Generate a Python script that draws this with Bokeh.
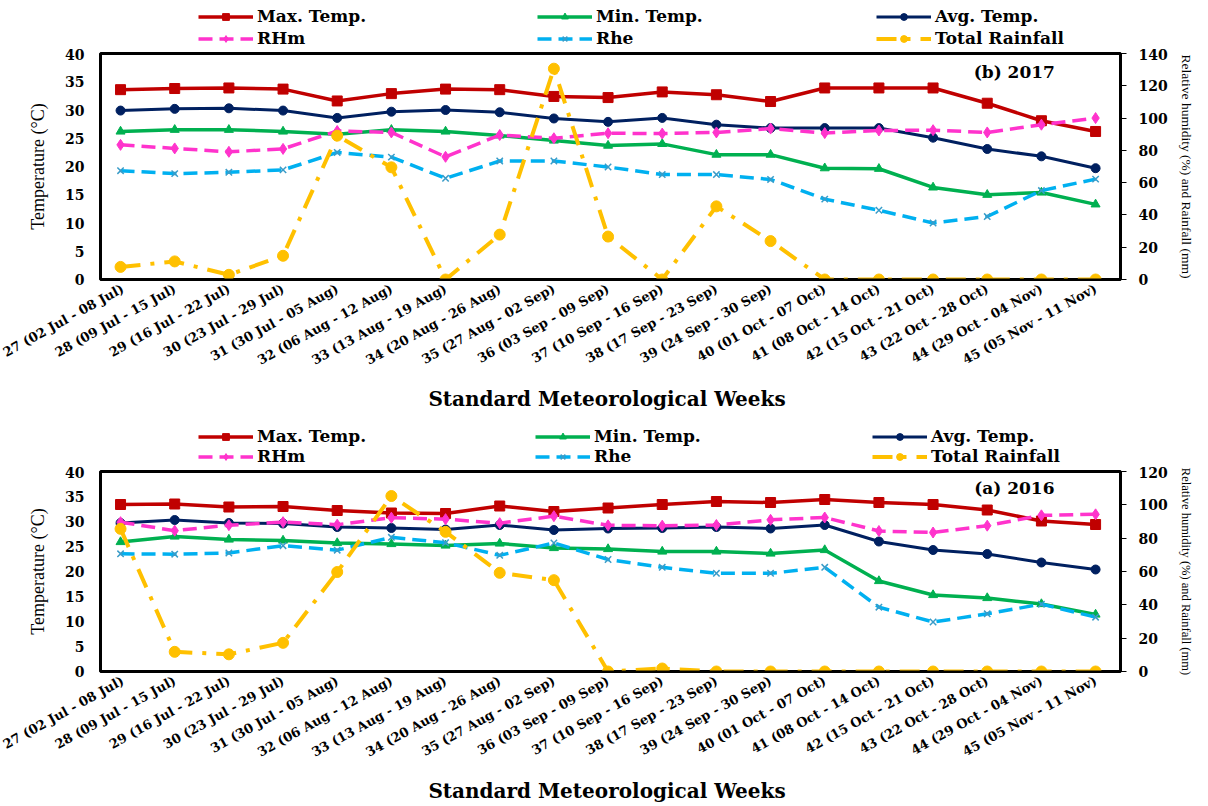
import math
from bokeh.plotting import figure
from bokeh.models import (Range1d, LinearAxis, FixedTicker, Legend, LegendItem, Label)
from bokeh.layouts import column
from bokeh.embed import file_html
from bokeh.resources import INLINE

weeks = ["27 (02 Jul - 08 Jul)", "28 (09 Jul - 15 Jul)", "29 (16 Jul - 22 Jul)",
         "30 (23 Jul - 29 Jul)", "31 (30 Jul - 05 Aug)", "32 (06 Aug - 12 Aug)",
         "33 (13 Aug - 19 Aug)", "34 (20 Aug - 26 Aug)", "35 (27 Aug - 02 Sep)",
         "36 (03 Sep - 09 Sep)", "37 (10 Sep - 16 Sep)", "38 (17 Sep - 23 Sep)",
         "39 (24 Sep - 30 Sep)", "40 (01 Oct - 07 Oct)", "41 (08 Oct - 14 Oct)",
         "42 (15 Oct - 21 Oct)", "43 (22 Oct - 28 Oct)", "44 (29 Oct - 04 Nov)",
         "45 (05 Nov - 11 Nov)"]

# 2017 (b)
max_2017 = [33.6, 33.8, 33.9, 33.7, 31.6, 32.9, 33.7, 33.6, 32.4, 32.2, 33.2, 32.7, 31.5, 33.9, 33.9, 33.9, 31.2, 28.1, 26.2]
min_2017 = [26.2, 26.5, 26.5, 26.2, 25.7, 26.5, 26.2, 25.5, 24.6, 23.7, 24.0, 22.1, 22.1, 19.7, 19.6, 16.3, 15.0, 15.4, 13.3]
avg_2017 = [29.9, 30.2, 30.3, 29.9, 28.6, 29.7, 30.0, 29.6, 28.5, 27.9, 28.6, 27.4, 26.8, 26.8, 26.8, 25.1, 23.1, 21.8, 19.7]
rhm_2017 = [83.4, 81.2, 79.1, 80.9, 92.0, 91.1, 76.0, 89.5, 87.5, 90.6, 90.4, 91.1, 93.5, 90.7, 92.3, 92.5, 91.1, 95.9, 100.0]
rhe_2017 = [67.4, 65.6, 66.4, 67.9, 78.7, 75.8, 62.7, 73.4, 73.4, 69.7, 65.0, 65.0, 62.0, 49.8, 42.9, 35.0, 39.0, 55.1, 62.2]
rain_2017 = [7.8, 11.2, 2.9, 14.7, 89.1, 69.5, 0.0, 27.8, 130.6, 26.6, 0.0, 45.3, 23.8, 0.0, 0.0, 0.0, 0.0, 0.0, 0.0]

# 2016 (a)
max_2016 = [33.4, 33.5, 32.9, 33.0, 32.2, 31.7, 31.6, 33.1, 32.0, 32.7, 33.4, 34.0, 33.8, 34.4, 33.8, 33.4, 32.3, 30.1, 29.4]
min_2016 = [25.9, 27.0, 26.4, 26.2, 25.7, 25.5, 25.2, 25.6, 24.7, 24.5, 24.0, 24.0, 23.6, 24.3, 18.1, 15.3, 14.7, 13.5, 11.4]
avg_2016 = [29.7, 30.3, 29.7, 29.6, 28.9, 28.7, 28.4, 29.3, 28.3, 28.6, 28.7, 28.9, 28.6, 29.3, 26.0, 24.3, 23.5, 21.8, 20.4]
rhm_2016 = [89.6, 84.5, 87.8, 89.6, 88.1, 92.3, 91.4, 89.0, 93.2, 87.7, 87.5, 87.9, 91.0, 92.4, 84.3, 83.4, 87.5, 93.7, 94.3]
rhe_2016 = [70.6, 70.4, 71.1, 75.5, 72.8, 80.5, 77.3, 69.7, 77.1, 67.2, 62.5, 58.9, 58.9, 62.5, 38.6, 29.7, 34.6, 40.4, 32.6]
rain_2016 = [85.6, 11.8, 10.3, 17.2, 59.7, 105.3, 83.8, 59.2, 54.8, 0.0, 1.8, 0.0, 0.0, 0.0, 0.0, 0.0, 0.0, 0.0, 0.0]

series_names = ["Max. Temp.", "Min. Temp.", "Avg. Temp.", "RHm", "Rhe", "Total Rainfall"]

SERIF = "Liberation Serif"
BOLD = "DejaVu Serif"

RED, GREEN, NAVY = "#C00000", "#00B050", "#002060"
PINK, CYAN, GOLD = "#FF33CC", "#00B0F0", "#FFC000"

# (line style, marker style) per series
STYLES = [
    (dict(line_color=RED, line_width=3.5), dict(marker="square", size=10, fill_color=RED, line_color=RED)),
    (dict(line_color=GREEN, line_width=3.5), dict(marker="triangle", size=9, fill_color=GREEN, line_color=GREEN)),
    (dict(line_color=NAVY, line_width=3), dict(marker="circle", size=9, fill_color=NAVY, line_color=NAVY)),
    (dict(line_color=PINK, line_width=3.5, line_dash="14 7"), dict(marker="diamond", size=11, fill_color=PINK, line_color=PINK)),
    (dict(line_color=CYAN, line_width=3.5, line_dash="14 7"), dict(marker="x", size=9, line_color="#3A9CC8", line_width=1.5)),
    (dict(line_color=GOLD, line_width=4, line_dash="20 10 4 10"), dict(marker="circle", size=11, fill_color=GOLD, line_color=GOLD)),
]


def make_legend_fig(height, spacing, series):
    # a strip above each chart that carries only the legend; its own ranges keep the
    # series themselves out of view so only the legend keys show
    f = figure(width=1208, height=height, output_backend="svg", toolbar_location=None,
               x_axis_location=None, y_axis_location=None, min_border=0,
               x_range=Range1d(-200, -199), y_range=Range1d(-200, -199))
    f.xgrid.visible = False
    f.ygrid.visible = False
    f.outline_line_color = None
    x = list(range(len(weeks)))
    items = []
    for name, ys, (ls, ms) in zip(series_names, series, STYLES):
        rl = f.line(x, ys, **ls)
        rm = f.scatter(x, ys, **ms)
        items.append(LegendItem(label=name, renderers=[rl, rm]))
    leg = Legend(items=items, orientation="horizontal", nrows=2, location=(98, 0),
                 label_text_font=BOLD, label_text_font_style="bold", label_text_font_size="17px",
                 label_text_color="black",
                 glyph_width=55, glyph_height=17, label_height=17, label_width=278,
                 label_standoff=4, spacing=spacing, padding=0, margin=0,
                 border_line_color=None, background_fill_alpha=0)
    f.add_layout(leg, "center")
    return f


def make_chart(title, mx, mn, av, rhm, rhe, rain, rh_max, height, top_border, bottom_border,
               right_label_size):
    x = list(range(len(weeks)))
    p = figure(width=1208, height=height, output_backend="svg", toolbar_location=None,
               x_range=Range1d(-0.37, 18.46), y_range=Range1d(0, 40),
               min_border_left=100, min_border_right=88, min_border_top=top_border,
               min_border_bottom=bottom_border)
    p.extra_y_ranges = {"rh": Range1d(0, rh_max)}
    p.xgrid.visible = False
    p.ygrid.visible = False
    p.outline_line_color = "black"
    p.outline_line_width = 3
    p.background_fill_color = "white"
    p.border_fill_color = "white"

    ya = p.yaxis[0]
    ya.ticker = FixedTicker(ticks=list(range(0, 41, 5)))
    ya.axis_label = "Temperature (°C)"
    ya.axis_label_text_font = SERIF
    ya.axis_label_text_font_style = "normal"
    ya.axis_label_text_font_size = "18px"
    ya.axis_label_text_color = "black"
    ya.axis_label_standoff = 14
    ya.major_label_text_font = BOLD
    ya.major_label_text_font_style = "bold"
    ya.major_label_text_font_size = "14px"
    ya.major_label_text_color = "black"
    ya.major_tick_out = 0
    ya.major_tick_in = 0
    ya.minor_tick_out = 0
    ya.minor_tick_in = 0
    ya.major_label_standoff = 16
    ya.axis_line_width = 2
    ya.axis_line_color = "black"

    ra = LinearAxis(y_range_name="rh")
    ra.ticker = FixedTicker(ticks=list(range(0, rh_max + 1, 20)))
    ra.axis_label = "Relative humidity (%) and Rainfall (mm)"
    ra.axis_label_text_font = SERIF
    ra.axis_label_text_font_style = "normal"
    ra.axis_label_text_font_size = right_label_size
    ra.axis_label_text_color = "black"
    ra.axis_label_standoff = 8
    ra.axis_label_orientation = "vertical"
    ra.major_label_text_font = BOLD
    ra.major_label_text_font_style = "bold"
    ra.major_label_text_font_size = "14px"
    ra.major_label_text_color = "black"
    ra.major_tick_out = 6
    ra.major_tick_in = 0
    ra.minor_tick_out = 0
    ra.minor_tick_in = 0
    ra.major_label_standoff = 12
    ra.axis_line_width = 2
    ra.axis_line_color = "black"
    p.add_layout(ra, "right")

    xa = p.xaxis[0]
    xa.ticker = FixedTicker(ticks=x)
    xa.major_label_overrides = {i: w for i, w in enumerate(weeks)}
    xa.major_label_orientation = math.radians(29)
    xa.major_label_text_font = BOLD
    xa.major_label_text_font_style = "bold"
    xa.major_label_text_font_size = "13px"
    xa.major_label_text_color = "black"
    xa.major_tick_out = 0
    xa.major_tick_in = 0
    xa.minor_tick_out = 0
    xa.minor_tick_in = 0
    xa.major_label_standoff = 8
    xa.axis_line_width = 2
    xa.axis_line_color = "black"
    xa.axis_label = "Standard  Meteorological Weeks"
    xa.axis_label_text_font = BOLD
    xa.axis_label_text_font_style = "bold"
    xa.axis_label_text_font_size = "20px"
    xa.axis_label_text_color = "black"
    xa.axis_label_standoff = 10

    data = [(mx, None), (mn, None), (av, None), (rhm, "rh"), (rhe, "rh"), (rain, "rh")]
    for (ys, rng), (ls, ms) in zip(data, STYLES):
        kw = {} if rng is None else {"y_range_name": rng}
        p.line(x, ys, **ls, **kw)
        p.scatter(x, ys, **ms, **kw)

    p.add_layout(Label(x=16.5, y=36.7, text=title, text_font=BOLD, text_font_style="bold",
                       text_font_size="17px", text_align="center", text_baseline="middle",
                       text_color="black"))
    return p


s2017 = [max_2017, min_2017, avg_2017, rhm_2017, rhe_2017, rain_2017]
s2016 = [max_2016, min_2016, avg_2016, rhm_2016, rhe_2016, rain_2016]

leg1 = make_legend_fig(48, 2, s2017)
p1 = make_chart("(b) 2017", *s2017, 140, 366, 5, 122, "13.5px")
leg2 = make_legend_fig(52, 0, s2016)
p2 = make_chart("(a) 2016", *s2016, 120, 340, 5, 114, "12.5px")

layout = column(leg1, p1, leg2, p2, spacing=0)
open("out.html", "w").write(file_html(layout, INLINE))
